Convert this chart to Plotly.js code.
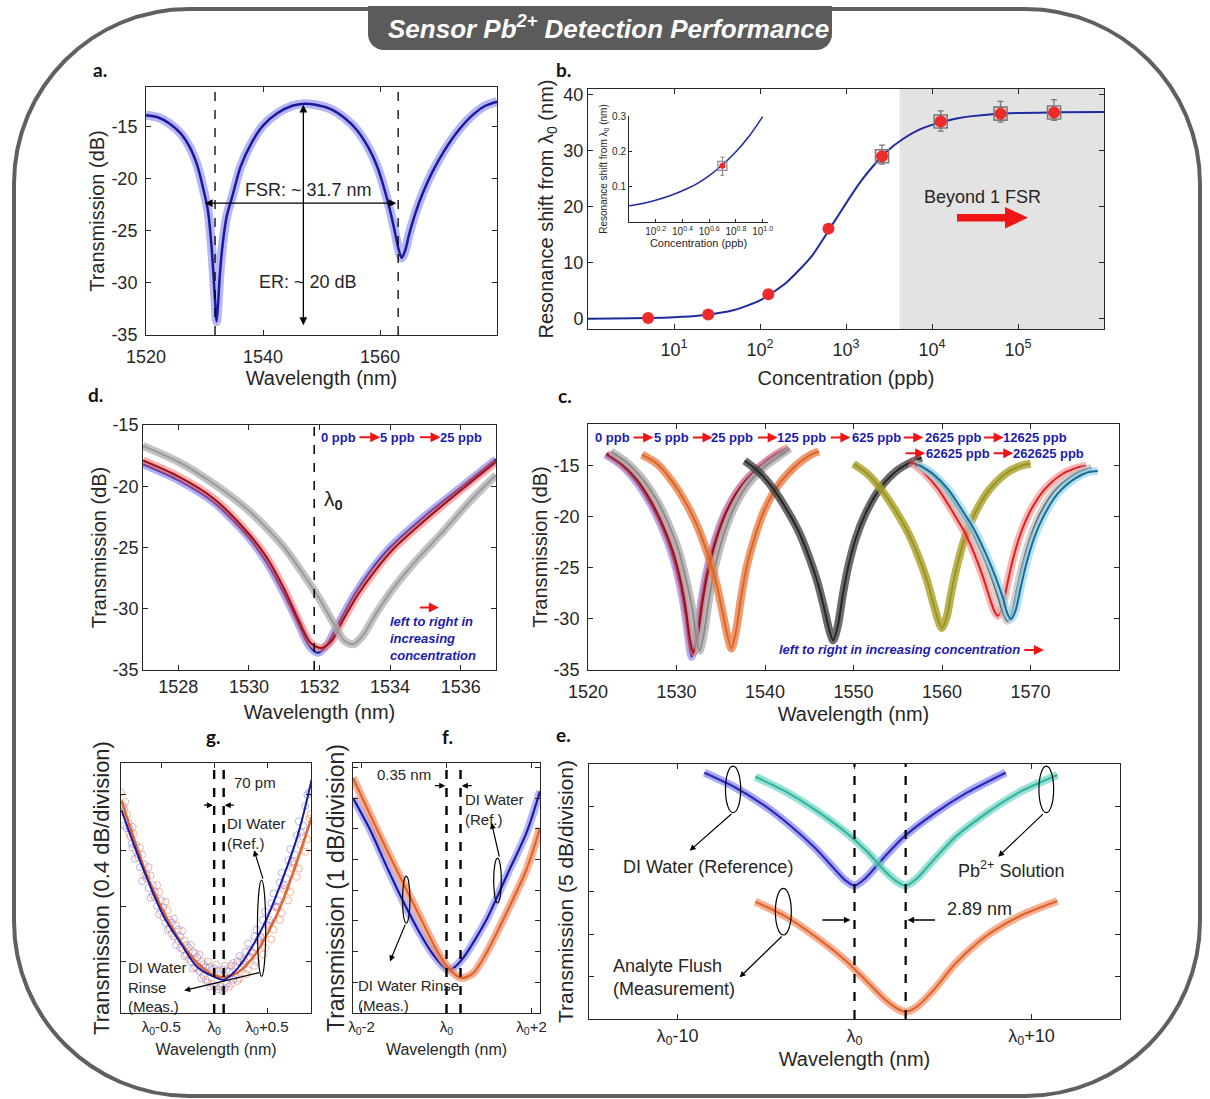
<!DOCTYPE html>
<html><head><meta charset="utf-8">
<script src="https://cdn.plot.ly/plotly-3.0.1.min.js"></script>
<style>html,body{margin:0;padding:0;background:#fff;}#chart{width:1210px;height:1099px;}</style>
</head><body><div id="chart"></div>
<script>
// ---------------- DATA ----------------
// (a) full spectrum, 0 ppb
const aWl = [1520,1522,1524,1526,1527.5,1528.8,1529.8,1530.6,1531.2,1531.6,1531.9,1532.05,1532.3,1532.6,1533.1,1533.8,1534.8,1536.2,1538,1540,1542.5,1545,1547,1549,1551.5,1554,1556,1558,1559.5,1560.7,1561.7,1562.5,1563.1,1563.7,1564.3,1565.0,1566.0,1567.3,1569,1571,1573.5,1576,1578,1580];
const aDb = [-13.9,-14.1,-14.7,-15.7,-17.0,-18.8,-21.0,-23.1,-26.5,-29.8,-32.6,-33.7,-32.2,-29.4,-26.3,-23.6,-21.6,-18.8,-16.6,-14.9,-13.7,-13.0,-12.8,-12.9,-13.3,-14.2,-15.3,-17.0,-18.8,-20.9,-23.0,-25.0,-26.6,-27.6,-26.9,-25.3,-23.4,-21.4,-19.3,-17.3,-15.3,-13.8,-13.0,-12.6];
const aDips = [1531.8, 1563.1];
const dbTickVals = [-35, -30, -25, -20, -15];
const dbTickText = ['-35', '-30', '-25', '-20', '-15'];

// (b) resonance shift vs concentration
const bConc  = [5, 25, 125, 625, 2625, 12625, 62625, 262625];
const bShift = [0.16, 0.8, 4.4, 16.1, 29.0, 35.2, 36.6, 36.8];
const bErrPlus  = [0, 0, 0, 0, 2.0, 1.9, 2.2, 2.3];
const bErrMinus = [0, 0, 0, 0, 1.4, 1.7, 1.5, 1.4];
const bFitConc  = [1, 2, 5, 10, 20, 50, 100, 200, 400, 700, 1000, 1500, 2000, 3000, 4500, 7000, 10000, 20000, 50000, 100000, 300000, 1000000];
const bFitShift = [0.03, 0.07, 0.16, 0.3, 0.62, 1.6, 3.3, 6.4, 11.2, 16.9, 20.6, 24.6, 27.0, 29.9, 32.0, 33.7, 34.6, 35.8, 36.5, 36.7, 36.85, 36.9];
const bShadeFrom = 4200;
const bTickVals = [10, 100, 1000, 10000, 100000];
const bTickText = ['10<sup>1</sup>','10<sup>2</sup>','10<sup>3</sup>','10<sup>4</sup>','10<sup>5</sup>'];
// inset
const inFitConc  = [1.0, 1.26, 1.58, 2.0, 2.51, 3.16, 3.98, 5.01, 6.31, 7.94, 10.0];
const inFitShift = [0.046, 0.053, 0.062, 0.074, 0.089, 0.107, 0.132, 0.163, 0.200, 0.245, 0.300];
const inErrPlus = [0.025], inErrMinus = [0.027];
const inTickVals = [1.585, 2.512, 3.981, 6.310, 10];
const inTickText = ['10<sup>0.2</sup>','10<sup>0.4</sup>','10<sup>0.6</sup>','10<sup>0.8</sup>','10<sup>1.0</sup>'];

// (d) zoom on first resonance: 0, 5, 25 ppb
const dBlueX = [1527,1528,1529,1530,1530.5,1531,1531.4,1531.7,1531.95,1532.2,1532.5,1533,1533.5,1534,1535,1536,1537];
const dBlueY = [-18.2,-19.5,-21.3,-24.2,-26.2,-28.8,-31.2,-33.0,-33.6,-33.0,-31.4,-28.8,-26.7,-25.0,-22.4,-20.1,-17.8];
const dRedX  = [1527,1528,1529,1530,1530.5,1531,1531.4,1531.75,1532.05,1532.35,1532.65,1533.1,1533.6,1534.1,1535.1,1536.1,1537];
const dRedY  = [-17.9,-19.2,-21.0,-23.9,-25.8,-28.4,-30.9,-32.8,-33.2,-32.6,-31.0,-28.8,-26.8,-25.1,-22.5,-20.1,-18.0];
const dGreyX = [1527,1528,1529,1530,1530.5,1531,1531.5,1532,1532.4,1532.7,1532.95,1533.2,1533.6,1534.1,1534.7,1535.5,1536.3,1537];
const dGreyY = [-16.7,-18.0,-19.8,-22.0,-23.4,-25.0,-27.0,-29.2,-31.2,-32.6,-32.9,-32.3,-30.4,-28.3,-26.2,-23.7,-21.1,-19.1];
const dLambda0 = 1531.85;

// (c) all concentrations
const c0X = [1522.0,1523.7,1525.4,1527.1,1528.4,1529.5,1530.4,1531.0,1531.4,1531.7,1532.2,1532.8,1533.4,1534.3,1535.4,1537.1,1539.3,1541.0,1542.2];
const c0Y = [-13.9,-14.9,-16.5,-18.8,-21.1,-23.7,-26.7,-29.6,-32.2,-33.7,-32.0,-28.3,-25.4,-22.4,-19.8,-17.2,-15.2,-14.1,-13.5];
const c5X = [1522.1,1523.8,1525.5,1527.2,1528.5,1529.6,1530.5,1531.1,1531.5,1531.9,1532.4,1533.0,1533.6,1534.5,1535.6,1537.3,1539.5,1541.2,1542.6];
const c5Y = [-13.8,-14.8,-16.3,-18.6,-20.9,-23.4,-26.4,-29.3,-31.9,-33.3,-31.6,-28.0,-25.2,-22.2,-19.6,-17.0,-15.0,-13.9,-13.2];
const c25X = [1522.6,1524.3,1526.0,1527.8,1529.1,1530.2,1531.1,1531.8,1532.2,1532.6,1533.1,1533.7,1534.3,1535.2,1536.3,1538.0,1540.1,1541.7,1542.8];
const c25Y = [-13.6,-14.6,-16.1,-18.4,-20.7,-23.2,-26.2,-29.1,-31.7,-33.1,-31.4,-27.9,-25.1,-22.1,-19.5,-16.9,-15.0,-14.0,-13.3];
const c125X = [1526.1,1527.8,1529.4,1531.1,1532.4,1533.5,1534.5,1535.2,1535.8,1536.2,1536.7,1537.3,1537.9,1538.8,1539.9,1541.5,1543.6,1545.2,1546.1];
const c125Y = [-13.9,-14.8,-16.4,-18.7,-21.0,-23.6,-26.5,-29.3,-31.8,-32.9,-31.3,-27.9,-25.0,-22.1,-19.4,-16.9,-14.9,-13.9,-13.6];
const c625X = [1537.7,1539.3,1540.9,1542.6,1543.9,1545.0,1546.0,1546.7,1547.3,1547.7,1548.2,1548.8,1549.4,1550.3,1551.4,1553.0,1555.0,1556.6,1557.7];
const c625Y = [-14.5,-15.6,-17.2,-19.5,-21.6,-24.0,-26.6,-29.0,-31.2,-32.1,-30.8,-27.6,-24.9,-22.0,-19.6,-17.2,-15.4,-14.6,-14.2];
const c2625X = [1550.0,1551.6,1553.2,1554.9,1556.2,1557.3,1558.3,1559.0,1559.6,1560.0,1560.5,1561.1,1561.7,1562.6,1563.7,1565.3,1567.3,1568.9,1570.0];
const c2625Y = [-14.8,-15.8,-17.4,-19.6,-21.6,-23.8,-26.2,-28.4,-30.2,-30.9,-29.9,-27.2,-24.8,-22.0,-19.7,-17.4,-15.7,-15.0,-14.8];
const c12625X = [1556.4,1558.0,1559.6,1561.2,1562.5,1563.6,1564.6,1565.3,1565.9,1566.3,1566.8,1567.4,1568.0,1568.9,1570.0,1571.6,1573.6,1575.2,1576.3];
const c12625Y = [-14.6,-15.7,-17.3,-19.5,-21.4,-23.5,-25.8,-27.7,-29.2,-29.7,-28.9,-26.5,-24.2,-21.6,-19.4,-17.3,-15.8,-15.2,-15.0];
const c62625X = [1556.8,1558.5,1560.2,1561.9,1563.3,1564.5,1565.6,1566.4,1567.0,1567.4,1567.9,1568.5,1569.1,1570.0,1571.1,1572.7,1574.7,1576.1,1576.9];
const c62625Y = [-14.7,-15.6,-17.1,-19.3,-21.3,-23.5,-25.9,-28.0,-29.6,-30.2,-29.4,-27.0,-24.7,-22.0,-19.7,-17.5,-16.0,-15.4,-15.2];
const c262625X = [1557.4,1559.0,1560.7,1562.4,1563.8,1565.0,1566.1,1566.9,1567.4,1567.8,1568.3,1568.9,1569.5,1570.4,1571.5,1573.1,1575.1,1576.6,1577.6];
const c262625Y = [-14.9,-15.8,-17.3,-19.5,-21.5,-23.7,-26.0,-28.0,-29.5,-30.0,-29.2,-26.9,-24.7,-22.1,-19.9,-17.7,-16.2,-15.6,-15.5];
const cLabelsRow1 = ['0 ppb','5 ppb','25 ppb','125 ppb','625 ppb','2625 ppb','12625 ppb'];
const cLabelsRow2 = ['62625 ppb','262625 ppb'];

// (g) DI water rinse, 0.4 dB/div (raw points, two passes each)
const gBlueScatX = [-0.86,-0.83,-0.8,-0.77,-0.74,-0.7,-0.66,-0.62,-0.58,-0.54,-0.5,-0.46,-0.42,-0.38,-0.34,-0.3,-0.26,-0.22,-0.18,-0.14,-0.1,-0.06,-0.02,0.02,0.06,0.1,0.14,0.18,0.22,0.26,0.3,0.34,0.38,0.42,0.46,0.5,0.54,0.58,0.62,0.66,0.7,0.74,0.78,0.82,0.86,0.9];
const gBlueScatY = [1.52,1.36,1.36,1.22,1.24,1.08,1.10,0.93,0.95,0.80,0.84,0.68,0.70,0.58,0.63,0.49,0.52,0.40,0.46,0.33,0.38,0.25,0.34,0.22,0.31,0.21,0.33,0.27,0.40,0.36,0.47,0.43,0.58,0.55,0.70,0.66,0.82,0.80,0.97,0.95,1.13,1.12,1.31,1.33,1.52,1.62];
const gBlueScat2X = [-0.85,-0.81,-0.78,-0.75,-0.72,-0.68,-0.64,-0.6,-0.56,-0.52,-0.48,-0.44,-0.4,-0.36,-0.32,-0.28,-0.24,-0.2,-0.16,-0.12,-0.08,-0.04,0,0.04,0.08,0.12,0.16,0.2,0.24,0.28,0.32,0.36,0.4,0.44,0.48,0.52,0.56,0.6,0.64,0.68,0.72,0.76,0.8,0.84,0.88];
const gBlueScat2Y = [1.38,1.40,1.25,1.14,1.17,0.98,1.03,0.86,0.90,0.74,0.79,0.63,0.68,0.52,0.58,0.44,0.50,0.35,0.43,0.28,0.36,0.22,0.35,0.20,0.34,0.24,0.37,0.30,0.44,0.38,0.53,0.46,0.63,0.58,0.76,0.70,0.89,0.84,1.04,1.00,1.21,1.17,1.41,1.38,1.60];
const gOrScatX = [-0.88,-0.85,-0.82,-0.79,-0.76,-0.72,-0.68,-0.64,-0.6,-0.56,-0.52,-0.48,-0.44,-0.4,-0.36,-0.32,-0.28,-0.24,-0.2,-0.16,-0.12,-0.08,-0.04,0,0.04,0.08,0.12,0.16,0.2,0.24,0.28,0.32,0.36,0.4,0.44,0.48,0.52,0.56,0.6,0.64,0.68,0.72,0.76,0.8,0.84,0.88,0.91];
const gOrScatY = [1.62,1.50,1.46,1.30,1.32,1.15,1.17,1.00,1.02,0.86,0.90,0.72,0.77,0.60,0.66,0.50,0.55,0.42,0.47,0.35,0.40,0.27,0.36,0.22,0.33,0.19,0.34,0.24,0.37,0.28,0.41,0.34,0.47,0.40,0.57,0.50,0.68,0.63,0.79,0.75,0.93,0.90,1.10,1.07,1.30,1.28,1.46];
const gOrScat2X = [-0.87,-0.84,-0.8,-0.77,-0.74,-0.7,-0.66,-0.62,-0.58,-0.54,-0.5,-0.46,-0.42,-0.38,-0.34,-0.3,-0.26,-0.22,-0.18,-0.14,-0.1,-0.06,-0.02,0.02,0.06,0.1,0.14,0.18,0.22,0.26,0.3,0.34,0.38,0.42,0.46,0.5,0.54,0.58,0.62,0.66,0.7,0.74,0.78,0.82,0.86,0.9];
const gOrScat2Y = [1.48,1.55,1.32,1.37,1.20,1.22,1.02,1.08,0.88,0.95,0.76,0.83,0.64,0.71,0.55,0.62,0.45,0.52,0.36,0.45,0.30,0.40,0.24,0.38,0.22,0.37,0.22,0.39,0.26,0.42,0.31,0.48,0.37,0.56,0.45,0.67,0.56,0.79,0.70,0.92,0.84,1.07,1.01,1.24,1.19,1.43];
const gFitX = [-0.874,-0.786,-0.629,-0.472,-0.314,-0.157,0,0.094,0.22,0.377,0.503,0.629,0.786,0.921];
const gBlueFitY = [1.49,1.30,0.99,0.72,0.53,0.36,0.29,0.27,0.35,0.53,0.72,0.96,1.30,1.71];
const gOrFitY   = [1.56,1.35,1.01,0.75,0.54,0.39,0.30,0.29,0.32,0.44,0.60,0.80,1.13,1.44];
const gMarks = [0, 0.09];

// (f) DI water rinse, 1 dB/div
const fBlueX = [-2.2,-1.8,-1.41,-1.02,-0.63,-0.31,0,0.16,0.39,0.94,1.41,1.88,2.2];
const fBlueY = [7.01,5.98,4.78,3.64,2.61,1.9,1.43,1.47,1.79,3.04,4.46,5.87,7.23];
const fOrX = [-2.2,-1.8,-1.41,-1.02,-0.63,-0.24,0.08,0.35,0.63,0.94,1.41,1.88,2.2];
const fOrY = [7.66,6.47,5.33,4.24,3.15,2.07,1.41,1.14,1.30,1.96,3.26,4.67,6.03];
const fMarks = [0, 0.33];

// (e) DI water / Pb2+ / analyte flush, 5 dB/div
const eBlueX = [-8.48,-6.81,-5.14,-3.67,-2.21,-1.17,-0.54,0,0.61,1.54,2.8,4.47,6.35,8.54];
const eBlueY = [28.98,27.33,25.18,22.82,20.08,17.73,16.35,15.69,16.55,18.71,21.45,24.12,26.63,28.98];
const eTealX = [-5.6,-3.88,-2.21,-0.54,0.71,1.75,2.48,2.9,3.53,4.47,5.72,7.39,9.27,11.46];
const eTealY = [28.5,26.75,24.59,22.04,19.69,17.33,16.04,15.69,16.55,18.71,21.45,24.12,26.63,28.7];
const eOrX = [-5.6,-3.88,-2.21,-0.54,0.71,1.75,2.48,2.9,3.53,4.47,5.72,7.39,9.27,11.46];
const eOrY = [13.8,12.04,9.69,6.94,4.39,2.24,1.14,0.86,1.45,3.41,6.55,9.69,12.04,13.88];
const eMarks = [0, 2.89];

// ---------------- HELPERS ----------------
const W = 1210, H = 1099;
const FONT = 'Liberation Sans, Arial, Helvetica, sans-serif';
const TXT = '#262626', BLUE_T = '#1c1cb0', RED = '#f01414';
const dx = (a, b) => [a / W, b / W];
const dy = (a, b) => [1 - b / H, 1 - a / H];
const pt = (x, y) => (x / W).toFixed(5) + ',' + (1 - y / H).toFixed(5);

function axis(o) {
  return Object.assign({
    showline: true, linecolor: TXT, linewidth: 1, mirror: 'allticks',
    ticks: 'inside', ticklen: 5, tickcolor: TXT, tickwidth: 1,
    showgrid: false, zeroline: false, automargin: false, fixedrange: true,
    tickfont: { family: FONT, size: 18, color: TXT }
  }, o);
}
function ttl(text, size, standoff) {
  return { text: text, font: { family: FONT, size: size, color: TXT }, standoff: standoff };
}
function spec(xa, ya, x, y, halo, line, hw, lw) {
  return [
    { type: 'scatter', mode: 'lines', x: x, y: y, xaxis: xa, yaxis: ya, hoverinfo: 'skip',
      line: { color: halo, width: hw, shape: 'spline', smoothing: 0.8 } },
    { type: 'scatter', mode: 'lines', x: x, y: y, xaxis: xa, yaxis: ya, hoverinfo: 'skip',
      line: { color: line, width: lw, shape: 'spline', smoothing: 0.8 } }
  ];
}
function arrow(xr, yr, x0, y0, x1, y1, color, w, both, size) {
  return { xref: xr, yref: yr, axref: xr, ayref: yr, x: x1, y: y1, ax: x0, ay: y0, text: '',
    showarrow: true, arrowhead: 2, arrowsize: size || 1, arrowwidth: w, arrowcolor: color,
    arrowside: both ? 'end+start' : 'end', standoff: 0, startstandoff: 0 };
}
function txt(xr, yr, x, y, t, size, o) {
  return Object.assign({ xref: xr, yref: yr, x: x, y: y, text: t, showarrow: false,
    font: { family: FONT, size: size, color: TXT }, xanchor: 'center', yanchor: 'middle' }, o || {});
}
function vdash(xr, yr, v, w) {
  return { type: 'line', xref: xr, yref: yr + ' domain', x0: v, x1: v, y0: 0, y1: 1,
    line: { color: '#000', width: w, dash: 'dash' } };
}
function ell(xr, yr, x0, x1, y0, y1) {
  return { type: 'circle', xref: xr, yref: yr, x0: x0, x1: x1, y0: y0, y1: y1, line: { color: '#000', width: 1.2 } };
}
function label(x, y, t) {
  return { xref: 'paper', yref: 'paper', x: x / W, y: 1 - y / H, text: '<b>' + t + '</b>', showarrow: false,
    font: { family: 'Lato, Open Sans, sans-serif', size: 19, color: '#111' }, xanchor: 'center', yanchor: 'middle' };
}
const blueBold = { font: { family: FONT, size: 13, color: BLUE_T } };

// ---------------- TRACES ----------------
const traces = [];
// a
traces.push(...spec('x', 'y', aWl, aDb, 'rgba(110,110,235,0.5)', '#1a1a9c', 9, 2.5));
// b
traces.push({ type: 'scatter', mode: 'lines', x: bFitConc, y: bFitShift, xaxis: 'x2', yaxis: 'y2', hoverinfo: 'skip',
  line: { color: '#1f2aa0', width: 2, shape: 'spline', smoothing: 0.6 } });
traces.push({ type: 'scatter', mode: 'markers', x: bConc.slice(4), y: bShift.slice(4), xaxis: 'x2', yaxis: 'y2', hoverinfo: 'skip',
  marker: { symbol: 'square-open', size: 13, color: '#7a7a7a', line: { width: 1.6, color: '#7a7a7a' } },
  error_y: { type: 'data', array: bErrPlus.slice(4), arrayminus: bErrMinus.slice(4), color: '#777', thickness: 1.3, width: 3 } });
traces.push({ type: 'scatter', mode: 'markers', x: bConc, y: bShift, xaxis: 'x2', yaxis: 'y2', hoverinfo: 'skip',
  marker: { color: '#ee2a2a', size: 12 } });
// inset
traces.push({ type: 'scatter', mode: 'lines', x: inFitConc, y: inFitShift, xaxis: 'x3', yaxis: 'y3', hoverinfo: 'skip',
  line: { color: '#1f2aa0', width: 1.5, shape: 'spline' } });
traces.push({ type: 'scatter', mode: 'markers', x: bConc.slice(0, 1), y: bShift.slice(0, 1), xaxis: 'x3', yaxis: 'y3', hoverinfo: 'skip',
  marker: { symbol: 'square-open', size: 9, color: '#8a8a8a', line: { width: 1.2, color: '#8a8a8a' } },
  error_y: { type: 'data', array: inErrPlus, arrayminus: inErrMinus, color: '#888', thickness: 1, width: 2 } });
traces.push({ type: 'scatter', mode: 'markers', x: bConc.slice(0, 1), y: bShift.slice(0, 1), xaxis: 'x3', yaxis: 'y3', hoverinfo: 'skip',
  marker: { color: '#ee2a2a', size: 6 } });
// d
traces.push(...spec('x4', 'y4', dBlueX, dBlueY, 'rgba(110,110,240,0.55)', '#1a1a9c', 8, 2));
traces.push(...spec('x4', 'y4', dRedX, dRedY, 'rgba(240,110,110,0.55)', '#a01010', 8, 2));
traces.push(...spec('x4', 'y4', dGreyX, dGreyY, 'rgba(175,175,175,0.75)', '#9a9a9a', 8, 2));
// c
const cSets = [
  [c0X, c0Y, 'rgba(120,110,240,0.55)', '#2a2aa0'],
  [c5X, c5Y, 'rgba(240,110,110,0.55)', '#9a1010'],
  [c25X, c25Y, 'rgba(170,170,170,0.75)', '#8c8c8c'],
  [c125X, c125Y, 'rgba(232,120,60,0.75)', '#d9662a'],
  [c625X, c625Y, 'rgba(70,70,70,0.8)', '#262626'],
  [c2625X, c2625Y, 'rgba(170,160,40,0.8)', '#9c9420'],
  [c12625X, c12625Y, 'rgba(240,120,120,0.55)', '#e41e1e'],
  [c62625X, c62625Y, 'rgba(190,190,190,0.7)', '#5a5a5a'],
  [c262625X, c262625Y, 'rgba(150,215,235,0.7)', '#1a6a98']
];
cSets.forEach(s => traces.push(...spec('x5', 'y5', s[0], s[1], s[2], s[3], 8, 2)));
// g
traces.push({ type: 'scatter', mode: 'markers', x: gOrScatX.concat(gOrScat2X), y: gOrScatY.concat(gOrScat2Y), xaxis: 'x6', yaxis: 'y6', hoverinfo: 'skip',
  marker: { symbol: 'circle-open', size: 7, color: 'rgba(240,130,90,0.6)', line: { width: 1 } } });
traces.push({ type: 'scatter', mode: 'markers', x: gBlueScatX.concat(gBlueScat2X), y: gBlueScatY.concat(gBlueScat2Y), xaxis: 'x6', yaxis: 'y6', hoverinfo: 'skip',
  marker: { symbol: 'circle-open', size: 7, color: 'rgba(120,120,230,0.55)', line: { width: 1 } } });
traces.push({ type: 'scatter', mode: 'lines', x: gFitX, y: gOrFitY, xaxis: 'x6', yaxis: 'y6', hoverinfo: 'skip',
  line: { color: '#e0642c', width: 2.5, shape: 'spline' } });
traces.push({ type: 'scatter', mode: 'lines', x: gFitX, y: gBlueFitY, xaxis: 'x6', yaxis: 'y6', hoverinfo: 'skip',
  line: { color: '#1a1aa0', width: 2, shape: 'spline' } });
// f
traces.push(...spec('x7', 'y7', fBlueX, fBlueY, 'rgba(120,120,240,0.55)', '#1a1aa0', 8, 2.2));
traces.push(...spec('x7', 'y7', fOrX, fOrY, 'rgba(240,135,90,0.65)', '#e0642c', 8, 2.2));
// e
traces.push(...spec('x8', 'y8', eBlueX, eBlueY, 'rgba(110,110,240,0.6)', '#2a2ab4', 8, 2.2));
traces.push(...spec('x8', 'y8', eTealX, eTealY, 'rgba(100,210,190,0.65)', '#36b4a0', 8, 2.2));
traces.push(...spec('x8', 'y8', eOrX, eOrY, 'rgba(240,135,90,0.65)', '#e0642c', 8, 2.2));

// ---------------- ANNOTATIONS ----------------
const ann = [];
ann.push({ xref: 'paper', yref: 'paper', x: 608 / W, y: 1 - 28 / H, showarrow: false,
  text: '<b><i>Sensor Pb<sup>2+</sup> Detection Performance</i></b>',
  font: { family: FONT, size: 26, color: '#fff' }, xanchor: 'center', yanchor: 'middle' });
[[100, 69, 'a.'], [563, 69, 'b.'], [95, 394, 'd.'], [565, 395, 'c.'], [213, 736, 'g.'], [447, 736, 'f.'], [563, 734, 'e.']]
  .forEach(l => ann.push(label(l[0], l[1], l[2])));
// a
ann.push(txt('x', 'y', 1547.7, -21.1, 'FSR: ~ 31.7 nm', 18));
ann.push(txt('x', 'y', 1547.7, -29.9, 'ER: ~ 20 dB', 18));
ann.push(arrow('x', 'y', 1529.8, -22.35, 1562.8, -22.35, '#000', 1.3, true, 1.2));
ann.push(arrow('x', 'y', 1546.9, -34.2, 1546.9, -12.9, '#000', 1.3, true, 1.2));
// b
ann.push(txt('x2', 'y2', 4.59, 21.7, 'Beyond 1 FSR', 18));
// d
ann.push(txt('x4', 'y4', 1532.54, -16.0, '<b>0 ppb</b>', 13, blueBold));
ann.push(txt('x4', 'y4', 1534.21, -16.0, '<b>5 ppb</b>', 13, blueBold));
ann.push(txt('x4', 'y4', 1536.0, -16.0, '<b>25 ppb</b>', 13, blueBold));
ann.push(arrow('x4', 'y4', 1533.09, -16.0, 1533.72, -16.0, RED, 2, false, 1));
ann.push(arrow('x4', 'y4', 1534.8, -16.0, 1535.43, -16.0, RED, 2, false, 1));
ann.push(arrow('x4', 'y4', 1534.8, -29.9, 1535.38, -29.9, RED, 2, false, 1));
ann.push(txt('x4', 'y4', 1532.4, -21.1, 'λ<sub><b>0</b></sub>', 21));
ann.push(txt('x4', 'y4', 1533.94, -32.4, '<b><i>left to right in<br>increasing<br>concentration</i></b>', 13,
  { xanchor: 'left', align: 'left', font: { family: FONT, size: 13, color: BLUE_T } }));
// c
const cRow1X = [1522.81, 1529.39, 1536.23, 1544.11, 1552.6, 1561.26, 1570.56];
const cRow2X = [1561.77, 1572.08];
cLabelsRow1.forEach((t, i) => ann.push(txt('x5', 'y5', cRow1X[i], -12.22, '<b>' + t + '</b>', 13, blueBold)));
cLabelsRow2.forEach((t, i) => ann.push(txt('x5', 'y5', cRow2X[i], -13.76, '<b>' + t + '</b>', 13, blueBold)));
[[1524.98, 1527.36], [1531.69, 1534.07], [1539.05, 1541.43], [1547.27, 1549.65], [1555.5, 1557.88], [1564.59, 1566.97]]
  .forEach(p => ann.push(arrow('x5', 'y5', p[0], -12.22, p[1], -12.22, RED, 2, false, 1)));
[[1555.71, 1558.1], [1565.67, 1568.05]].forEach(p => ann.push(arrow('x5', 'y5', p[0], -13.76, p[1], -13.76, RED, 2, false, 1)));
ann.push(txt('x5', 'y5', 1555.19, -33.04, '<b><i>left to right in increasing concentration</i></b>', 13, blueBold));
ann.push(arrow('x5', 'y5', 1569.13, -33.04, 1571.52, -33.04, RED, 2, false, 1));
// g
ann.push(txt('x6', 'y6', 0.17, 1.693, '70 pm', 15, { xanchor: 'left' }));
ann.push(arrow('x6', 'y6', -0.11, 1.526, -0.012, 1.526, '#000', 1.2, false, 1));
ann.push(arrow('x6', 'y6', 0.2, 1.526, 0.1, 1.526, '#000', 1.2, false, 1));
ann.push(txt('x6', 'y6', 0.1, 1.47, 'DI Water<br>(Ref.)', 15, { xanchor: 'left', yanchor: 'top', align: 'left' }));
ann.push(arrow('x6', 'y6', 0.465, 0.987, 0.377, 1.202, '#000', 1.2, false, 1));
ann.push(arrow('x6', 'y6', 0.44, 0.323, -0.283, 0.192, '#000', 1.2, false, 1));
ann.push(txt('x6', 'y6', -0.833, 0.43, 'DI Water<br>Rinse<br>(Meas.)', 15, { xanchor: 'left', yanchor: 'top', align: 'left' }));
// f
ann.push(txt('x7', 'y7', -1.0, 7.77, '0.35 nm', 15));
ann.push(arrow('x7', 'y7', -0.31, 7.41, -0.03, 7.41, '#000', 1.2, false, 1));
ann.push(arrow('x7', 'y7', 0.63, 7.41, 0.36, 7.41, '#000', 1.2, false, 1));
ann.push(txt('x7', 'y7', 0.39, 7.3, 'DI Water<br>(Ref.)', 15, { xanchor: 'left', yanchor: 'top', align: 'left' }));
ann.push(arrow('x7', 'y7', 1.25, 5.05, 1.06, 6.2, '#000', 1.2, false, 1));
ann.push(arrow('x7', 'y7', -0.957, 2.93, -1.33, 1.68, '#000', 1.2, false, 1));
ann.push(txt('x7', 'y7', -2.12, 1.25, 'DI Water Rinse<br>(Meas.)', 15, { xanchor: 'left', yanchor: 'top', align: 'left' }));
// e
ann.push(arrow('x8', 'y8', -6.87, 24.27, -9.31, 19.8, '#000', 1.2, false, 1));
ann.push(arrow('x8', 'y8', 10.73, 24.27, 8.12, 19.1, '#000', 1.2, false, 1));
ann.push(arrow('x8', 'y8', -4.03, 9.88, -6.49, 4.9, '#000', 1.2, false, 1));
ann.push(txt('x8', 'y8', -8.27, 17.92, 'DI Water (Reference)', 18));
ann.push(txt('x8', 'y8', 8.85, 17.6, 'Pb<sup>2+</sup> Solution', 18));
ann.push(txt('x8', 'y8', -13.74, 4.88, 'Analyte Flush<br>(Measurement)', 18, { xanchor: 'left', align: 'left' }));
ann.push(txt('x8', 'y8', 7.08, 13.0, '2.89 nm', 18));
ann.push(arrow('x8', 'y8', -1.9, 11.65, -0.23, 11.65, '#000', 1.3, false, 1));
ann.push(arrow('x8', 'y8', 4.63, 11.65, 3.0, 11.65, '#000', 1.3, false, 1));

// ---------------- SHAPES ----------------
const L = 14, T = 9, R = 1200, B = 1096, r = 175, k = 0.5523 * 175;
const borderPath = `M ${pt(L + r, T)} L ${pt(R - r, T)} C ${pt(R - r + k, T)} ${pt(R, T + r - k)} ${pt(R, T + r)} L ${pt(R, B - r)} C ${pt(R, B - r + k)} ${pt(R - r + k, B)} ${pt(R - r, B)} L ${pt(L + r, B)} C ${pt(L + r - k, B)} ${pt(L, B - r + k)} ${pt(L, B - r)} L ${pt(L, T + r)} C ${pt(L, T + r - k)} ${pt(L + r - k, T)} ${pt(L + r, T)} Z`;
const bannerPath = `M ${pt(368, 6)} L ${pt(832, 6)} L ${pt(832, 34)} C ${pt(832, 43)} ${pt(825, 50)} ${pt(816, 50)} L ${pt(384, 50)} C ${pt(375, 50)} ${pt(368, 43)} ${pt(368, 34)} Z`;
const blockArrow = 'M ' + [[957, 214], [1005, 214], [1005, 207], [1028, 217.7], [1005, 228.5], [1005, 221.5], [957, 221.5]].map(p => pt(p[0], p[1])).join(' L ') + ' Z';

const shapes = [
  { type: 'path', xref: 'paper', yref: 'paper', path: borderPath, line: { color: '#606060', width: 4 } },
  { type: 'path', xref: 'paper', yref: 'paper', path: bannerPath, fillcolor: '#5b5b5b', line: { width: 0 } },
  { type: 'rect', xref: 'x2', yref: 'y2 domain', x0: bShadeFrom, x1: 1e6, y0: 0, y1: 1, fillcolor: '#e3e3e3', line: { width: 0 }, layer: 'below' },
  { type: 'path', xref: 'paper', yref: 'paper', path: blockArrow, fillcolor: '#f01414', line: { width: 0 } },
  vdash('x', 'y', aDips[0], 1.3), vdash('x', 'y', aDips[1], 1.3),
  vdash('x4', 'y4', dLambda0, 1.5),
  vdash('x6', 'y6', gMarks[0], 2.4), vdash('x6', 'y6', gMarks[1], 2.4),
  ell('x6', 'y6', 0.409, 0.487, 0.293, 0.987),
  vdash('x7', 'y7', fMarks[0], 2.4), vdash('x7', 'y7', fMarks[1], 2.4),
  ell('x7', 'y7', 1.11, 1.29, 3.59, 5.05), ell('x7', 'y7', -1.035, -0.86, 2.93, 4.46),
  vdash('x8', 'y8', eMarks[0], 2.2), vdash('x8', 'y8', eMarks[1], 2.2),
  ell('x8', 'y8', -7.29, -6.43, 24.27, 29.76), ell('x8', 'y8', 10.42, 11.25, 24.27, 29.76), ell('x8', 'y8', -4.47, -3.57, 9.88, 15.37)
];

// ---------------- LAYOUT ----------------
const lam = v => 'λ<sub>0</sub>' + v;
const layout = {
  width: W, height: H, autosize: false, showlegend: false,
  margin: { l: 0, r: 0, t: 0, b: 0 },
  paper_bgcolor: '#fff', plot_bgcolor: 'rgba(0,0,0,0)',
  font: { family: FONT, color: TXT },
  // a
  xaxis: axis({ domain: dx(146, 497), anchor: 'y', range: [1520, 1580], tickvals: [1520, 1540, 1560], ticklabelstandoff: 5, title: ttl('Wavelength (nm)', 20, 1) }),
  yaxis: axis({ domain: dy(87, 335), anchor: 'x', range: [-35, -11.2], tickvals: dbTickVals, ticktext: dbTickText, ticklabelstandoff: 4, title: ttl('Transmission (dB)', 20, 1) }),
  // b
  xaxis2: axis({ domain: dx(588, 1104), anchor: 'y2', type: 'log', range: [0, 6], tickvals: bTickVals, ticktext: bTickText, ticklabelstandoff: 4, title: ttl('Concentration (ppb)', 20, 12) }),
  yaxis2: axis({ domain: dy(89, 329), anchor: 'x2', range: [-1.8, 41], tickvals: [0, 10, 20, 30, 40], title: ttl('Resonance shift from λ<sub>0</sub> (nm)', 20, 4) }),
  // inset
  xaxis3: axis({ domain: dx(629, 768), anchor: 'y3', type: 'log', range: [0, 1.04], mirror: false, ticklen: 3, tickvals: inTickVals, ticktext: inTickText,
    tickfont: { family: FONT, size: 10, color: TXT }, title: ttl('Concentration (ppb)', 11, 2) }),
  yaxis3: axis({ domain: dy(116, 222), anchor: 'x3', range: [0, 0.302], mirror: false, ticklen: 3, tickvals: [0.1, 0.2, 0.3],
    tickfont: { family: FONT, size: 10, color: TXT }, title: ttl('Resonance shift from λ<sub>0</sub> (nm)', 10, 2) }),
  // d
  xaxis4: axis({ domain: dx(143, 496), anchor: 'y4', range: [1527, 1537], tickvals: [1528, 1530, 1532, 1534, 1536], title: ttl('Wavelength (nm)', 20, 9) }),
  yaxis4: axis({ domain: dy(425, 670), anchor: 'x4', range: [-35, -15], tickvals: dbTickVals, ticktext: dbTickText, title: ttl('Transmission (dB)', 20, 0) }),
  // c
  xaxis5: axis({ domain: dx(588, 1119), anchor: 'y5', range: [1520, 1580], tickvals: [1520, 1530, 1540, 1550, 1560, 1570], ticklabelstandoff: 5, title: ttl('Wavelength (nm)', 20, 6) }),
  yaxis5: axis({ domain: dy(424, 670), anchor: 'x5', range: [-35, -10.9], tickvals: dbTickVals, ticktext: dbTickText, ticklabelstandoff: 4, title: ttl('Transmission (dB)', 20, 0) }),
  // g
  xaxis6: axis({ domain: dx(121, 311), anchor: 'y6', range: [-0.88, 0.915], tickvals: [-0.5, 0, 0.5], ticktext: [lam('-0.5'), lam(''), lam('+0.5')],
    tickfont: { family: FONT, size: 15, color: TXT }, title: ttl('Wavelength (nm)', 16, 7) }),
  yaxis6: axis({ domain: dy(763, 1013), anchor: 'x6', range: [0.03, 1.83], tickvals: [0.4, 0.8, 1.2, 1.6], showticklabels: false, title: ttl('Transmission (0.4 dB/division)', 22, 4) }),
  // f
  xaxis7: axis({ domain: dx(353, 540), anchor: 'y7', range: [-2.2, 2.2], tickvals: [-2, 0, 2], ticktext: [lam('-2'), lam(''), lam('+2')],
    tickfont: { family: FONT, size: 15, color: TXT }, title: ttl('Wavelength (nm)', 16, 7) }),
  yaxis7: axis({ domain: dy(763, 1013), anchor: 'x7', range: [0, 8.15], tickvals: [1, 2, 3, 4, 5, 6, 7, 8], showticklabels: false, title: ttl('Transmission (1 dB/division)', 23, 0) }),
  // e
  xaxis8: axis({ domain: dx(589, 1120), anchor: 'y8', range: [-15, 15], tickvals: [-10, 0, 10], ticktext: [lam('-10'), lam(''), lam('+10')], title: ttl('Wavelength (nm)', 20, 0) }),
  yaxis8: axis({ domain: dy(764, 1019), anchor: 'x8', range: [0, 30], tickvals: [5, 10, 15, 20, 25], showticklabels: false, title: ttl('Transmission (5 dB/division)', 21, 8) }),
  annotations: ann,
  shapes: shapes
};

Plotly.newPlot('chart', traces, layout, { displayModeBar: false, staticPlot: true });
</script></body></html>
